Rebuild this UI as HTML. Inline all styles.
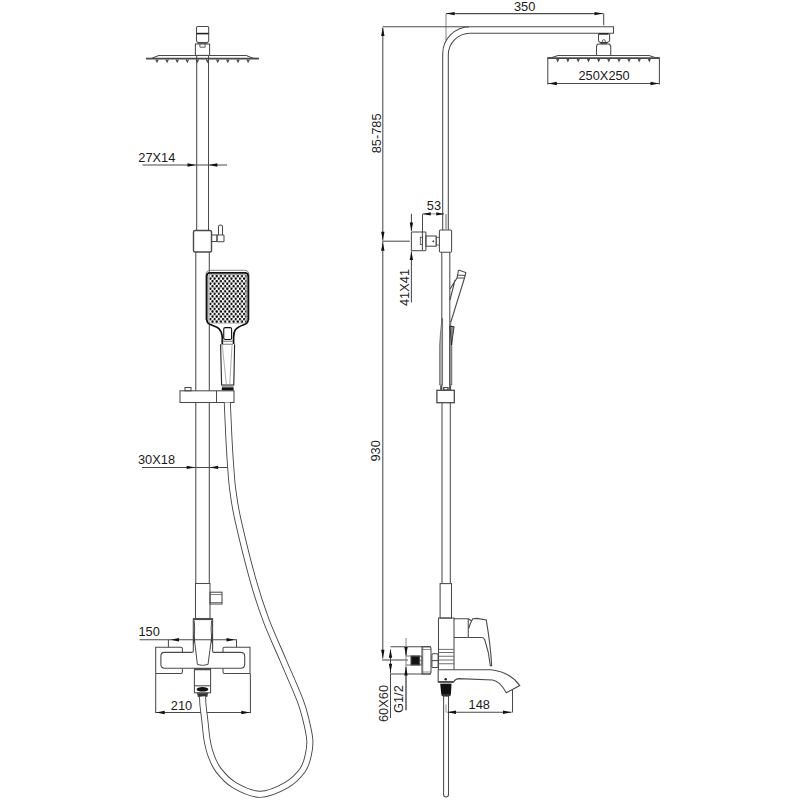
<!DOCTYPE html>
<html><head><meta charset="utf-8">
<style>
html,body{margin:0;padding:0;background:#fff;}
svg{display:block;}
text{font-family:"Liberation Sans",sans-serif;font-size:12.8px;fill:#1a1a1a;}
</style></head><body>
<svg width="800" height="800" viewBox="0 0 800 800">
<defs>
<pattern id="dots" x="209.35" y="274.835" width="4.22" height="5.06" patternUnits="userSpaceOnUse">
<circle cx="3.16" cy="1.265" r="1.2" fill="#000"/><circle cx="1.05" cy="3.795" r="1.2" fill="#000"/>
</pattern>
</defs>

<g fill="none" stroke="#4a4a4a" stroke-width="1.05">
<!-- shower head top connector -->
<path d="M196.5,34 V27.4 Q196.5,26.4 197.5,26.4 H207.7 Q208.7,26.4 208.7,27.4 V34"/>
<path d="M196.5,34 V40.5 Q196.5,42.3 198.2,42.6 H207 Q208.7,42.3 208.7,40.5 V34"/>
<line x1="196.5" y1="33.6" x2="208.7" y2="33.6" stroke-width="1.6" stroke="#222"/>
<line x1="197.5" y1="43.2" x2="207.7" y2="43.2" stroke-width="1" stroke="#555"/>
<rect x="195.4" y="44" width="14.2" height="11.4"/>
<path d="M199.9,44 V47.2 H205.1 V44" stroke-width="0.9"/>
<!-- plate -->
<path d="M146,58.4 L152,58.2 L158.7,55.4 L246.3,55.4 L253,58.2 L259,58.4"/>
<line x1="146" y1="58.6" x2="259" y2="58.6" stroke-width="1.6"/>
<path stroke-width="1.2" d="M155.8,59.5 l1.2,2.4 l1.2,-2.4 M165.9,59.5 l1.2,2.4 l1.2,-2.4 M176,59.5 l1.2,2.4 l1.2,-2.4 M186.1,59.5 l1.2,2.4 l1.2,-2.4 M196.2,59.5 l1.2,2.4 l1.2,-2.4 M206.3,59.5 l1.2,2.4 l1.2,-2.4 M216.5,59.5 l1.2,2.4 l1.2,-2.4 M226.6,59.5 l1.2,2.4 l1.2,-2.4 M236.8,59.5 l1.2,2.4 l1.2,-2.4 M246.9,59.5 l1.2,2.4 l1.2,-2.4"/>
<!-- upper rod -->
<line x1="196.7" y1="56" x2="196.7" y2="230.5"/>
<line x1="208.5" y1="56" x2="208.5" y2="230.5"/>
<!-- 27X14 dim -->
<line x1="142.4" y1="165" x2="227" y2="165"/>
<!-- slider block -->
<rect x="193.5" y="230.5" width="18" height="21.5" rx="1.5" stroke-width="1.4"/>
<rect x="211.5" y="235" width="5.5" height="6.5"/>
<rect x="217" y="235" width="7" height="6.8" rx="0.8"/>
<path d="M218.5,235 V227 a2,2 0 0 1 4,0 V235"/>
<!-- lower rod -->
<line x1="195.8" y1="252" x2="195.8" y2="583.5"/>
<line x1="209.3" y1="252" x2="209.3" y2="583.5"/>
</g>
<!-- hand shower head -->
<g stroke="#111" fill="none">
<path d="M205.9,320 V275 Q205.9,270.3 210.5,270.3 H244.5 Q249,270.3 249,275 V320" stroke="#666" stroke-width="0.8"/>
<path d="M222.3,344 V337.5 Q221.8,330 217,327.2 Q212,325 209.8,324.2 Q206.75,323 206.75,319.5 V276.2 Q206.75,272.9 210,272.9 H245 Q248.2,272.9 248.2,276.2 V319.5 Q248.2,323 244.5,324.5 Q238,326.5 235.2,330 Q233.6,332.5 233.6,337.5 V344" stroke-width="1.7" fill="#fff"/>
<rect x="208.7" y="274.6" width="37.8" height="48.5" rx="1.5" stroke="#777" stroke-width="0.6"/>
<rect x="209.3" y="274.8" width="37" height="48" fill="url(#dots)" stroke="none"/>
<rect x="223.75" y="327.6" width="7.85" height="11.9" rx="1.5" stroke-width="1.1"/>
<path d="M221.1,341.25 H233.1 M221.1,344.25 H233.1" stroke="#555" stroke-width="0.8"/>
<path d="M220.6,344.25 L221.6,385 H233.8 L234.6,344.25" stroke-width="1.1" stroke="#222"/>
<path d="M222.25,345 L226.4,384.75 M232,345 L229.75,384.75" stroke-width="0.6" stroke="#777"/>
<line x1="221.8" y1="386.2" x2="233.6" y2="386.2" stroke="#555" stroke-width="0.8"/>
<rect x="221.8" y="387.3" width="11.8" height="3.3" fill="#111" stroke="none"/>
</g>
<g fill="none" stroke="#4a4a4a" stroke-width="1.05">
<!-- slider bar -->
<rect x="180" y="390.8" width="54" height="11.7" fill="#fff"/>
<line x1="216.5" y1="390.8" x2="216.5" y2="402.5"/>
<rect x="185" y="387.5" width="6" height="3.3"/>
<!-- 30X18 dim -->
<line x1="142" y1="467.4" x2="227.5" y2="467.4"/>
<!-- rod lower joint -->
<rect x="195.5" y="583.5" width="14.5" height="35"/>
<rect x="210" y="592.2" width="12" height="11.8"/>
<line x1="210" y1="594.5" x2="222" y2="594.5" stroke-width="0.7"/>
<line x1="210" y1="602.5" x2="222" y2="602.5" stroke-width="0.7"/>
<!-- mixer (front) -->
<path d="M155.7,673.4 V647.2 H180.9 Q182.4,647.2 182.4,648.7 V652.4" />
<path d="M182.4,668.2 V671.9 Q182.4,673.4 180.9,673.4 H155.7"/>
<path d="M250,673.4 V647.2 H224.5 Q223,647.2 223,648.7 V652.4"/>
<path d="M223,668.2 V671.9 Q223,673.4 224.5,673.4 H250"/>
<path d="M193.3,618.7 V651 Q193.3,652.4 191.8,652.4 H164.5 Q160.9,652.4 160.9,656 V664.6 Q160.9,668.2 164.5,668.2 H240.7 Q244.7,668.2 244.7,664.2 V656.4 Q244.7,652.4 240.7,652.4 H214 Q212.6,652.4 212.6,651 V618.7 Z" fill="#fff" stroke-width="1.1"/>
<line x1="193.3" y1="619.2" x2="212.6" y2="619.2" stroke-width="1.8"/>
<path d="M194.2,620.5 Q195.2,629 194.2,637.5 L197.4,664.5 Q202.7,666.3 208,664.5 L211.6,637.5 Q210.6,629 211.6,620.5" stroke-width="1"/>
<path d="M193.6,633 L195,640 L193.6,645 Z M212.3,633 L210.9,640 L212.3,645 Z" fill="#222" stroke="none"/>
<!-- outlet -->
<rect x="194.4" y="668.7" width="16.2" height="24.1"/>
<line x1="194.4" y1="669.5" x2="210.6" y2="669.5" stroke-width="1.5"/>
<line x1="194.4" y1="685.8" x2="210.6" y2="685.8"/>
<ellipse cx="202.5" cy="689.3" rx="5.9" ry="2.3" fill="#111" stroke="none"/>
<path d="M197.5,693.2 H207.6 L206.8,696.5 H198.3 Z" fill="#333"/>
<!-- 150 dim -->
<line x1="139.6" y1="639.8" x2="236.5" y2="639.8"/>
<line x1="168.4" y1="639.8" x2="168.4" y2="647.2"/>
<line x1="236.5" y1="639.3" x2="236.5" y2="647.2"/>
<!-- 210 dim -->
<line x1="155.7" y1="673.4" x2="155.7" y2="713"/>
<line x1="250.4" y1="673.4" x2="250.4" y2="713"/>
<line x1="155.7" y1="712.5" x2="250.4" y2="712.5"/>
</g>
<!-- left hose -->
<path d="M227.3,402.5 C227.58,408.75 228.43,429.25 229,440 C229.57,450.75 230.07,458.67 230.7,467 C231.33,475.33 231.58,481.17 232.8,490 C234.02,498.83 234.63,505.00 238,520 C241.37,535.00 248.33,563.33 253,580 C257.67,596.67 261.00,606.67 266,620 C271.00,633.33 277.33,646.67 283,660 C288.67,673.33 296.17,690.00 300,700 C303.83,710.00 304.37,713.33 306,720 C307.63,726.67 309.42,734.17 309.8,740 C310.18,745.83 309.48,750.00 308.3,755 C307.12,760.00 306.32,765.00 302.7,770 C299.08,775.00 293.72,780.95 286.6,785 C279.48,789.05 268.75,794.30 260,794.3 C251.25,794.30 241.03,789.05 234.1,785 C227.17,780.95 222.27,775.00 218.4,770 C214.53,765.00 212.78,760.00 210.9,755 C209.02,750.00 208.08,745.50 207.1,740 C206.12,734.50 205.68,727.83 205,722 C204.32,716.17 203.40,709.25 203,705 C202.60,700.75 202.67,697.92 202.6,696.5" fill="none" stroke="#444" stroke-width="7"/>
<path d="M227.3,402.5 C227.58,408.75 228.43,429.25 229,440 C229.57,450.75 230.07,458.67 230.7,467 C231.33,475.33 231.58,481.17 232.8,490 C234.02,498.83 234.63,505.00 238,520 C241.37,535.00 248.33,563.33 253,580 C257.67,596.67 261.00,606.67 266,620 C271.00,633.33 277.33,646.67 283,660 C288.67,673.33 296.17,690.00 300,700 C303.83,710.00 304.37,713.33 306,720 C307.63,726.67 309.42,734.17 309.8,740 C310.18,745.83 309.48,750.00 308.3,755 C307.12,760.00 306.32,765.00 302.7,770 C299.08,775.00 293.72,780.95 286.6,785 C279.48,789.05 268.75,794.30 260,794.3 C251.25,794.30 241.03,789.05 234.1,785 C227.17,780.95 222.27,775.00 218.4,770 C214.53,765.00 212.78,760.00 210.9,755 C209.02,750.00 208.08,745.50 207.1,740 C206.12,734.50 205.68,727.83 205,722 C204.32,716.17 203.40,709.25 203,705 C202.60,700.75 202.67,697.92 202.6,696.5" fill="none" stroke="#fff" stroke-width="5.2"/>

<!-- ===== RIGHT VIEW ===== -->
<g fill="none" stroke="#4a4a4a" stroke-width="1.05">
<!-- 350 dim -->
<line x1="446" y1="13.8" x2="446" y2="40" stroke="#888"/>
<line x1="603.7" y1="13.5" x2="603.7" y2="25.3"/>
<line x1="456" y1="13.6" x2="446" y2="13.6"/>
<line x1="456" y1="13.6" x2="593" y2="13.6"/>
<line x1="593" y1="13.6" x2="603.2" y2="13.6"/>
<!-- vertical main dim line -->
<line x1="382.8" y1="26.7" x2="469" y2="26.7"/>
<line x1="382.8" y1="37" x2="382.8" y2="27.5"/>
<line x1="382.8" y1="37" x2="382.8" y2="231"/>
<line x1="382.8" y1="231" x2="382.8" y2="240.5"/>
<line x1="382.8" y1="252" x2="382.8" y2="242"/>
<line x1="382.8" y1="252" x2="382.8" y2="648"/>
<line x1="382.8" y1="648" x2="382.8" y2="658.5"/>
<line x1="382" y1="241.2" x2="409.8" y2="241.2"/>
<line x1="382" y1="660" x2="408" y2="660"/>
<!-- arm -->
<path d="M442.7,231 V54 A27.3,27.3 0 0 1 470,26.7 H613.5 V33.2 H470 A21.7,21.7 0 0 0 448.3,54.9 V231"/>
<!-- head connector -->
<path d="M598.5,34 V40.3 Q598.5,41.8 600,42.3 L601.2,43.8 H606.2 L607.6,42.3 Q609.6,41.8 609.6,40.3 V34"/>
<line x1="598.8" y1="33.9" x2="608.6" y2="33.9" stroke-width="1.6" stroke="#222"/>
<path d="M602.2,42 Q602.2,39.6 603.8,39.6 Q605.4,39.6 605.4,42" stroke-width="0.9"/>
<line x1="600.5" y1="42.6" x2="607" y2="42.6" stroke-width="1.2" stroke="#333"/>
<path d="M596.5,55.5 V47 Q596.5,44.3 598.8,44 H608.4 Q610.75,44.3 610.75,47 V55.5"/>
<!-- head plate -->
<path d="M547.6,57.9 L552,57.6 L558,55.5 H649 L655,57.6 L659.4,57.9"/>
<line x1="547.6" y1="58.1" x2="659.4" y2="58.1" stroke-width="1.6"/>
<path stroke-width="1.2" d="M556.5,58.5 l1.2,2.6 l1.2,-2.6 M566.7,58.5 l1.2,2.6 l1.2,-2.6 M577,58.5 l1.2,2.6 l1.2,-2.6 M587.3,58.5 l1.2,2.6 l1.2,-2.6 M597.5,58.5 l1.2,2.6 l1.2,-2.6 M607.6,58.5 l1.2,2.6 l1.2,-2.6 M617.8,58.5 l1.2,2.6 l1.2,-2.6 M627.8,58.5 l1.2,2.6 l1.2,-2.6 M638,58.5 l1.2,2.6 l1.2,-2.6 M648.1,58.5 l1.2,2.6 l1.2,-2.6"/>
<line x1="547.8" y1="57.6" x2="547.8" y2="84.4"/>
<line x1="659.4" y1="57.6" x2="659.4" y2="84.4"/>
<line x1="557" y1="83.5" x2="548" y2="83.5"/>
<line x1="557" y1="83.5" x2="650" y2="83.5"/>
<line x1="650" y1="83.5" x2="659.2" y2="83.5"/>
<!-- 53 dim -->
<line x1="422.5" y1="213.9" x2="422.5" y2="232"/>
<line x1="445.9" y1="213.9" x2="445.9" y2="230" stroke="#888"/>
<line x1="431.5" y1="213.9" x2="423" y2="213.9"/>
<line x1="431.5" y1="213.9" x2="436" y2="213.9" stroke="#999"/>
<line x1="436" y1="213.9" x2="444" y2="213.9"/>
<!-- 41X41 dim -->
<line x1="411.4" y1="213.7" x2="411.4" y2="222.5"/>
<line x1="411.4" y1="222" x2="411.4" y2="231"/>
<line x1="411.4" y1="232" x2="411.4" y2="250.7"/>
<line x1="411.4" y1="261" x2="411.4" y2="251.5"/>
<line x1="411.4" y1="261" x2="411.4" y2="302.5"/>
<line x1="411.4" y1="232" x2="422.4" y2="232"/>
<line x1="411.4" y1="250.7" x2="422.4" y2="250.7"/>
<!-- wall bracket -->
<rect x="422.4" y="232" width="3.5" height="18.7" rx="0.6"/>
<rect x="420.3" y="237.3" width="2.1" height="7.3" stroke-width="0.8"/>
<rect x="425.9" y="236" width="10.3" height="10.2"/>
<circle cx="433.3" cy="241.3" r="0.9" fill="#222" stroke="none"/>
<rect x="436.2" y="237.3" width="3.2" height="7.7" stroke-width="0.8"/>
<rect x="439.4" y="230" width="12.2" height="22.3" rx="1.2" fill="#fff"/>
<line x1="446.3" y1="213.9" x2="446.3" y2="230" stroke="#aaa"/>
<!-- rod right view -->
<line x1="441.8" y1="252.3" x2="441.8" y2="390.3"/>
<line x1="449.8" y1="252.3" x2="449.8" y2="390.3"/>
<path d="M442,318.5 Q440.5,330 439.6,345 V385 H442.6 V318.5 Z" fill="#aaa" stroke="#444" stroke-width="0.6"/>
<path d="M449.6,326 V385 H451.8 V326 Z" fill="#999" stroke="#333" stroke-width="0.6"/>
<!-- hand shower side -->
<path d="M458.5,270 L465.8,272.5 L464.5,278 L451,321.5 M458.5,270 L457,278 L450,289 M457.5,275 L465,275.5 M457,278 L464.5,278 M455,280 L450,300" stroke-width="1.1"/>
<path d="M450,326.5 H454.2 L451.5,345 Z" fill="#888" stroke="#111" stroke-width="0.7"/>
<path d="M450,321.5 L451,321.5 L450.5,326.5" stroke-width="0.8"/>
<path d="M441,385.5 V390 M450.3,385.5 V390" stroke-width="1.6"/>
<ellipse cx="445.9" cy="388.8" rx="2.3" ry="1.3" stroke-width="0.8"/>
<!-- slider -->
<rect x="436.9" y="390.3" width="17.4" height="12.4" stroke-width="1.3"/>
<rect x="443.6" y="387.5" width="4.5" height="2.8"/>
<!-- rod lower -->
<line x1="442" y1="402.7" x2="442" y2="583.75"/>
<line x1="450.3" y1="402.7" x2="450.3" y2="583.75"/>
<rect x="440.1" y="583.6" width="11.4" height="34.5"/>
<!-- mixer body -->
<path d="M454.4,618 H438.5 V669.4"/>
<line x1="454" y1="618" x2="454" y2="669.4"/>
<path d="M454,618.75 H468.25 V637.5 H454"/>
<path d="M468.25,637.5 H481.5 Q483.8,637.3 484.8,640 Q489,652 490.3,665.6 H491.7 Q490.5,645 486.25,619.9 L477.25,618.4 L472.75,618.75 Q470.2,623 468.6,628.5 M468.25,618.75 L471.5,620.8" stroke-width="1.1"/>
<path d="M438.5,649.4 H453.75 M438.5,652.5 H453.75 M438.5,656.25 H453.75 M438.5,660 H453.75 M438.5,663.75 H453.75" stroke-width="0.8"/>
<rect x="431.9" y="653.75" width="6.2" height="13.75" rx="1"/>
<line x1="431.9" y1="660.6" x2="438.1" y2="660.6"/>
<!-- flange -->
<path d="M422,646.8 H429.5 Q431,646.8 431,648.3 V672.5 Q431,674 429.5,674 H422 Z"/>
<path d="M422.8,646.8 V674 M422,649.5 H431 M422,672 H431" stroke-width="0.6"/>
<rect x="411" y="656" width="8.5" height="9" fill="#111"/>
<path d="M406,656 H422 M406,665 H422" stroke-width="0.8"/>
<rect x="419.5" y="657" width="2.5" height="3" stroke-width="0.6"/>
<rect x="419.5" y="661" width="2.5" height="3" stroke-width="0.6"/>
<!-- 60X60 and G1/2 dims -->
<line x1="390.5" y1="646.8" x2="431" y2="646.8"/>
<line x1="390.5" y1="674" x2="431" y2="674"/>
<line x1="390.5" y1="656" x2="390.5" y2="649.5"/>
<line x1="390.5" y1="656" x2="390.5" y2="664.5"/>
<line x1="390.5" y1="664.5" x2="390.5" y2="673.5"/>
<line x1="390.5" y1="674" x2="390.5" y2="718"/>
<line x1="406" y1="638" x2="406" y2="710.3" stroke="#888"/>
<line x1="406" y1="647" x2="406" y2="655.5"/>
<line x1="406" y1="674.5" x2="406" y2="667"/>
<line x1="406" y1="674.5" x2="406" y2="710.3"/>
<!-- spout -->
<path d="M438.2,669.75 H491.25 Q510,672 519.75,685.6 L506.25,692.75 Q500,681 492.5,680 L459,678.6 Q455.5,678.7 453.5,682 L438.2,682 Z" stroke-width="1.1"/>
<line x1="438.2" y1="682" x2="453.5" y2="682" stroke-width="1.5" stroke="#333"/>
<circle cx="445.7" cy="679.2" r="1.25" fill="#222" stroke="none"/>
<line x1="440.3" y1="683.2" x2="451.5" y2="683.2" stroke="#777" stroke-width="0.8"/>
<path d="M440.25,684 H451.5 L450.9,694.5 Q450.75,696.6 448.5,696.6 H443.6 Q441.4,696.6 441.3,694.5 Z" fill="#111" stroke="none"/>
<line x1="441.3" y1="695" x2="450.9" y2="695" stroke="#888" stroke-width="0.6"/>
<!-- hose right -->
<path d="M443.6,696 V794.5 A2.45,2.45 0 0 0 448.5,794.5 V696"/>
<!-- 148 dim -->
<line x1="446" y1="704.4" x2="446" y2="712.5" stroke="#999"/>
<line x1="512.5" y1="690" x2="512.5" y2="712.5"/>
<line x1="456" y1="712.25" x2="447.5" y2="712.25"/>
<line x1="456" y1="712.25" x2="503" y2="712.25"/>
<line x1="503" y1="712.25" x2="511.5" y2="712.25"/>
</g>

<path d="M196,165 L187.5,163.3 L187.5,166.7 Z" fill="#111" stroke="none"/>
<path d="M208.8,165 L217.3,163.3 L217.3,166.7 Z" fill="#111" stroke="none"/>
<path d="M195.2,467.4 L186.7,465.7 L186.7,469.09999999999997 Z" fill="#111" stroke="none"/>
<path d="M209.6,467.4 L218.1,465.7 L218.1,469.09999999999997 Z" fill="#111" stroke="none"/>
<path d="M170.5,639.8 L179.0,638.0999999999999 L179.0,641.5 Z" fill="#111" stroke="none"/>
<path d="M235,639.8 L226.5,638.0999999999999 L226.5,641.5 Z" fill="#111" stroke="none"/>
<path d="M156.2,712.5 L164.7,710.8 L164.7,714.2 Z" fill="#111" stroke="none"/>
<path d="M249.8,712.5 L241.3,710.8 L241.3,714.2 Z" fill="#111" stroke="none"/>
<path d="M446.2,13.6 L454.7,11.9 L454.7,15.299999999999999 Z" fill="#111" stroke="none"/>
<path d="M603,13.6 L594.5,11.9 L594.5,15.299999999999999 Z" fill="#111" stroke="none"/>
<path d="M382.8,27.5 L381.1,36.0 L384.5,36.0 Z" fill="#111" stroke="none"/>
<path d="M382.8,240.3 L381.1,231.8 L384.5,231.8 Z" fill="#111" stroke="none"/>
<path d="M382.8,242.3 L381.1,250.8 L384.5,250.8 Z" fill="#111" stroke="none"/>
<path d="M382.8,658.3 L381.1,649.8 L384.5,649.8 Z" fill="#111" stroke="none"/>
<path d="M548.3,83.5 L556.8,81.8 L556.8,85.2 Z" fill="#111" stroke="none"/>
<path d="M659,83.5 L650.5,81.8 L650.5,85.2 Z" fill="#111" stroke="none"/>
<path d="M423.2,213.9 L430.7,212.20000000000002 L430.7,215.6 Z" fill="#111" stroke="none"/>
<path d="M443.8,213.9 L436.3,212.20000000000002 L436.3,215.6 Z" fill="#111" stroke="none"/>
<path d="M411.4,231 L409.7,222.5 L413.09999999999997,222.5 Z" fill="#111" stroke="none"/>
<path d="M411.4,251.5 L409.7,260.0 L413.09999999999997,260.0 Z" fill="#111" stroke="none"/>
<path d="M390.5,649.3 L388.8,657.8 L392.2,657.8 Z" fill="#111" stroke="none"/>
<path d="M390.5,672.3 L388.8,663.8 L392.2,663.8 Z" fill="#111" stroke="none"/>
<path d="M406,655.5 L404.3,647.0 L407.7,647.0 Z" fill="#111" stroke="none"/>
<path d="M406,667 L404.3,675.5 L407.7,675.5 Z" fill="#111" stroke="none"/>
<path d="M447.5,712.25 L456.0,710.55 L456.0,713.95 Z" fill="#111" stroke="none"/>
<path d="M511.5,712.25 L503.0,710.55 L503.0,713.95 Z" fill="#111" stroke="none"/>
<text x="138.3" y="161.7">27X14</text>
<text x="138" y="464">30X18</text>
<text x="138.5" y="636.3">150</text>
<text x="170.8" y="709.8">210</text>
<text x="514" y="10.5">350</text>
<text x="578.5" y="80.3">250X250</text>
<text x="426.8" y="210.4">53</text>
<text x="468.6" y="708.7">148</text>
<text transform="translate(381.2,153.3) rotate(-90)">85-785</text>
<text transform="translate(409.4,306) rotate(-90)">41X41</text>
<text transform="translate(380.4,461.5) rotate(-90)">930</text>
<text transform="translate(388,722) rotate(-90)">60X60</text>
<text transform="translate(403.3,713) rotate(-90)">G1/2</text>
</svg>
</body></html>
